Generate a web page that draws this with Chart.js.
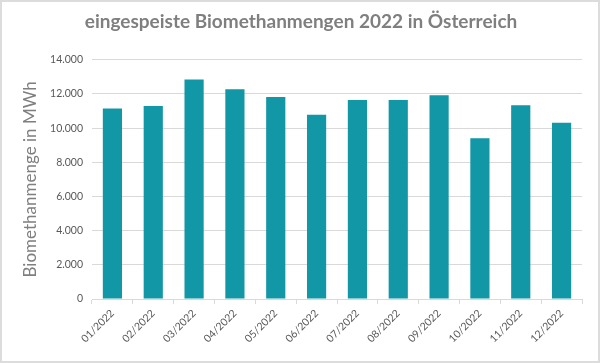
<!DOCTYPE html>
<html>
<head>
<meta charset="utf-8">
<script src="https://cdn.jsdelivr.net/npm/chart.js@4"></script>
<style>
  html, body { margin: 0; padding: 0; background: #fff; }
  #wrap { width: 600px; height: 363px; box-sizing: border-box; border: 2px solid #dcdcdc; position: relative; }
  canvas { display: block; }
</style>
</head>
<body>
<div id="wrap"><canvas id="chart" width="596" height="359"></canvas></div>
<script>
// Monate und eingespeiste Mengen (MWh)
const months = ["01/2022", "02/2022", "03/2022", "04/2022", "05/2022", "06/2022",
  "07/2022", "08/2022", "09/2022", "10/2022", "11/2022", "12/2022"];
const biomethaneMWh = [11150, 11300, 12850, 12270, 11820, 10780, 11650, 11650, 11920, 9410, 11340, 10310];
const yTicks = [0, 2000, 4000, 6000, 8000, 10000, 12000, 14000];

const fontFamily = "Lato, 'Open Sans', sans-serif";

// 12000 -> "12.000"
const formatDE = (v) => String(v).replace(/\B(?=(\d{3})+(?!\d))/g, ".");

document.addEventListener("DOMContentLoaded", () => {
  const ctx = document.getElementById("chart").getContext("2d");

  new Chart(ctx, {
    type: "bar",
    data: {
      labels: months,
      datasets: [{
        label: "Biomethanmenge",
        data: biomethaneMWh,
        backgroundColor: "#1297a7",
        categoryPercentage: 1,
        barPercentage: 0.47,
      }],
    },
    options: {
      responsive: false,
      animation: false,
      layout: { padding: { left: 18, right: 16, top: 0, bottom: 2 } },
      plugins: {
        legend: { display: false },
        tooltip: { enabled: false },
        title: {
          display: true,
          text: "eingespeiste Biomethanmengen 2022 in Österreich",
          color: "#7f7f7f",
          font: { family: fontFamily, size: 19, weight: "bold" },
          padding: { top: 8, bottom: 27 },
        },
      },
      scales: {
        y: {
          min: 0,
          max: 14000,
          afterBuildTicks: (scale) => { scale.ticks = yTicks.map((v) => ({ value: v })); },
          afterFit: (scale) => { scale.width = 72; },
          grid: { color: "#d9d9d9", drawTicks: false },
          border: { display: false },
          ticks: {
            color: "#595959",
            padding: 9,
            font: { family: fontFamily, size: 10.5 },
            callback: (v) => formatDE(v),
          },
          title: {
            display: true,
            text: "Biomethanmenge in MWh",
            color: "#7f7f7f",
            font: { family: fontFamily, size: 17 },
            padding: { top: 0, bottom: 0 },
          },
        },
        x: {
          afterFit: (scale) => { scale.height = 60; },
          grid: { offset: true, drawOnChartArea: false, color: "#d9d9d9", tickLength: 5 },
          border: { color: "#d9d9d9" },
          ticks: {
            color: "#595959",
            maxRotation: 45,
            minRotation: 45,
            padding: 3,
            font: { family: fontFamily, size: 10.5 },
          },
        },
      },
    },
  });
});
</script>
</body>
</html>
